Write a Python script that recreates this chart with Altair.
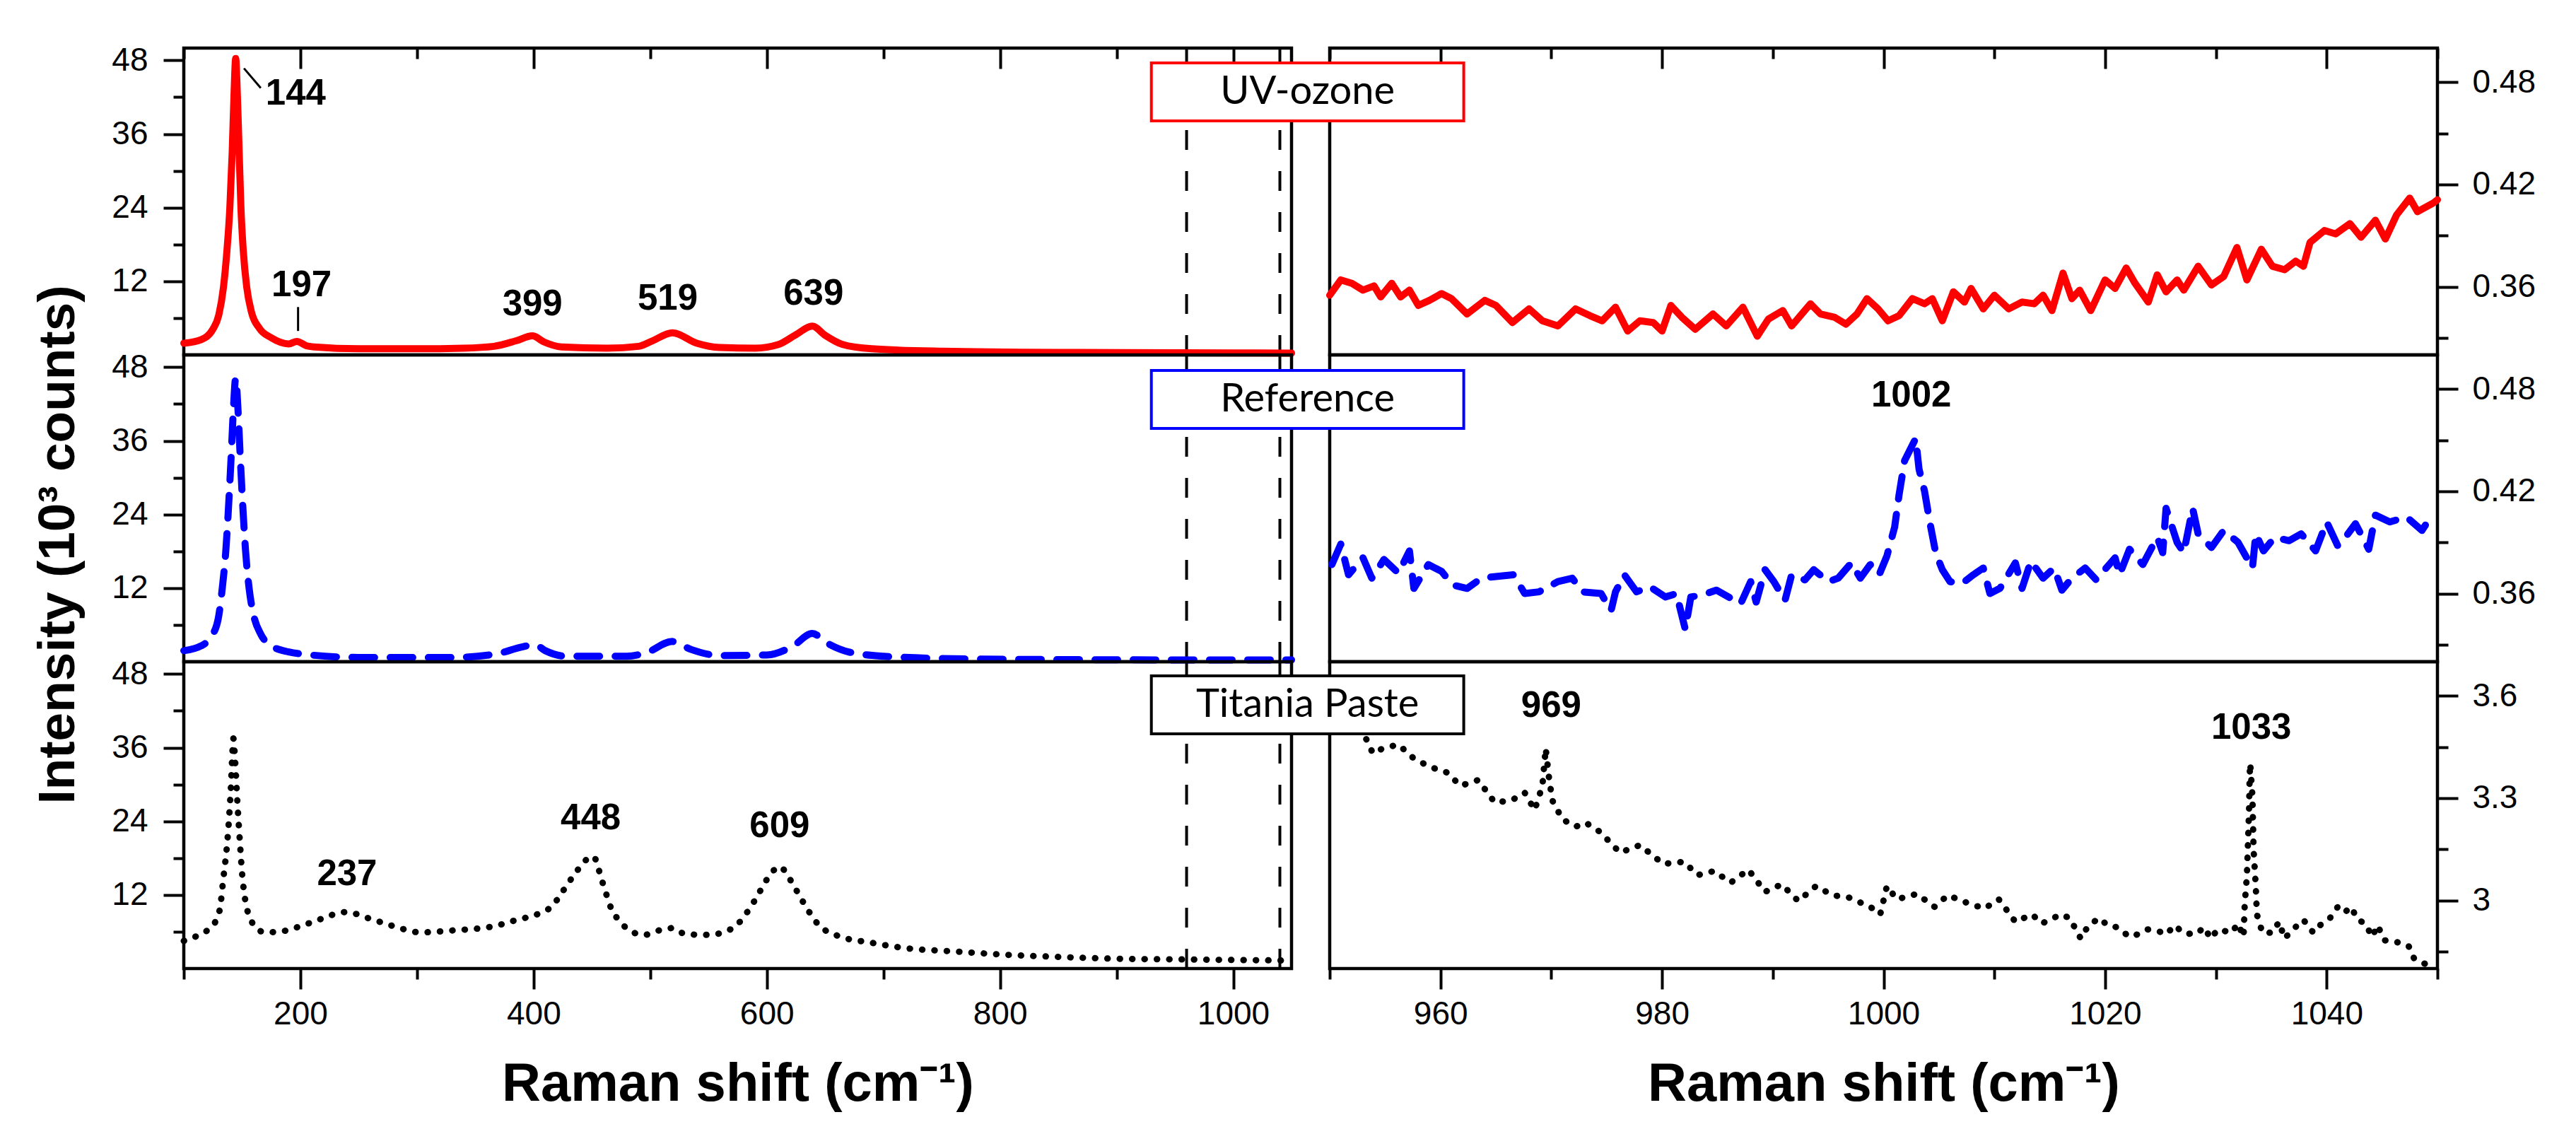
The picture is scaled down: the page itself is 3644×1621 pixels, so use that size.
import altair as alt
import pandas as pd

# ---------- left column: full spectra (x = Raman shift, y = 10^3 counts) ----------
uv_x = [100, 115, 125, 130, 134, 137, 139.5, 141.5, 143, 144.5, 146, 147.5, 149, 151, 154, 158,
        165, 175, 190, 197, 205, 212, 250, 300, 340, 366, 385, 399, 409, 424, 463, 490, 502,
        519, 540, 560, 590, 610, 625, 639, 650, 665, 690, 750, 850, 950, 1050]
uv_y = [1.9, 2.5, 4.2, 6.5, 11, 17, 24, 33, 42, 48.3, 42, 33, 24, 17, 11, 7,
        4.3, 2.8, 1.8, 2.2, 1.5, 1.3, 1.0, 1.0, 1.1, 1.4, 2.3, 3.1, 2.1, 1.3, 1.1, 1.4, 2.3,
        3.6, 1.9, 1.2, 1.1, 1.7, 3.3, 4.7, 3.2, 1.7, 1.0, 0.6, 0.4, 0.35, 0.3]

ref_x = [100, 115, 125, 130, 133, 136, 138, 140.5, 142.5, 144.5, 146.5, 148.5, 151, 153, 156, 160,
         166, 175, 190, 204, 250, 330, 366, 390, 401, 410, 428, 480, 497, 519, 535, 560, 600,
         622, 639, 652, 670, 700, 760, 850, 950, 1050]
ref_y = [1.8, 2.6, 4.5, 7.5, 12, 18, 24, 33, 41, 46.2, 41, 33, 24, 18, 12, 7.5,
         4.5, 2.6, 1.6, 1.2, 0.7, 0.7, 1.2, 2.4, 2.8, 1.8, 0.9, 0.9, 1.5, 3.3, 2.0, 1.0, 1.1,
         2.5, 4.6, 3.0, 1.6, 0.9, 0.5, 0.35, 0.3, 0.3]

tit_x = [100, 110, 120, 127, 131, 134, 137, 139, 140.5, 141.5, 142.5, 144, 146, 148, 150, 153,
         157, 162, 170, 185, 200, 215, 239, 260, 280, 303, 330, 366, 385, 405, 416, 425, 436,
         445, 451, 459, 467, 474, 484, 495, 511, 520, 530, 550, 570, 590, 600, 611, 620, 630,
         645, 660, 690, 720, 760, 800, 850, 900, 950, 1000, 1050]
tit_y = [4.5, 5.2, 6.2, 7.6, 9.8, 14.8, 20, 25, 30, 34.5, 37.5, 34, 27, 21, 15.5, 10.8,
         8.2, 6.6, 5.9, 6.1, 6.9, 7.9, 9.2, 8.1, 6.9, 5.9, 6.2, 6.9, 7.9, 9.0, 10.2, 12.6, 15.6,
         17.7, 18.3, 14.1, 9.6, 7.7, 6.0, 5.5, 6.4, 6.6, 5.6, 5.5, 6.5, 11.2, 14.5, 16.6, 14.5, 11.2,
         7.0, 5.4, 4.2, 3.3, 2.8, 2.3, 1.9, 1.6, 1.5, 1.4, 1.3]

# ---------- right column: zoom 950-1050 cm-1 ----------
uvz_x = [950.0, 951.0, 952.0, 953.0, 954.0, 954.6, 955.6, 956.4, 957.2, 958.0, 959.0, 960.1, 961.0,
         962.4, 964.0, 965.0, 966.5, 968.0, 969.2, 970.6, 972.2, 973.5, 974.6, 975.8, 976.9, 978.0,
         979.2, 980.0, 980.8, 981.8, 983.0, 984.6, 985.8, 987.3, 988.6, 989.6, 990.9, 991.7, 993.4,
         994.3, 995.6, 996.6, 997.6, 998.5, 999.5, 1000.4, 1001.4, 1002.6, 1003.7, 1004.4, 1005.3,
         1006.3, 1007.3, 1007.9, 1009.0, 1010.0, 1011.3, 1012.5, 1013.6, 1014.4, 1015.2, 1016.2,
         1017.0, 1017.7, 1018.7, 1020.0, 1020.9, 1021.9, 1022.7, 1023.9, 1024.7, 1025.5, 1026.5,
         1027.1, 1028.4, 1029.6, 1030.7, 1031.9, 1032.8, 1034.1, 1035.1, 1036.2, 1037.2, 1037.9,
         1038.5, 1039.8, 1040.8, 1042.1, 1043.1, 1044.4, 1045.3, 1046.3, 1047.5, 1048.2, 1049.6, 1050.0]
uvz_y = [0.355, 0.364, 0.362, 0.358, 0.3605, 0.354, 0.362, 0.354, 0.358, 0.349, 0.352, 0.356, 0.353,
         0.344, 0.352, 0.349, 0.339, 0.347, 0.340, 0.337, 0.347, 0.343, 0.340, 0.348, 0.334, 0.340,
         0.339, 0.334, 0.349, 0.342, 0.335, 0.344, 0.337, 0.348, 0.331, 0.341, 0.346, 0.337, 0.350,
         0.344, 0.342, 0.338, 0.344, 0.353, 0.347, 0.340, 0.343, 0.353, 0.350, 0.353, 0.340,
         0.357, 0.351, 0.359, 0.347, 0.355, 0.347, 0.351, 0.350, 0.355, 0.346, 0.368,
         0.353, 0.358, 0.346, 0.364, 0.359, 0.371, 0.362, 0.351, 0.367, 0.357, 0.364,
         0.358, 0.372, 0.361, 0.366, 0.383, 0.364, 0.382, 0.372, 0.370, 0.375, 0.372,
         0.386, 0.393, 0.391, 0.397, 0.389, 0.399, 0.388, 0.402, 0.412, 0.404, 0.409, 0.411]

refz_x = [950.2, 951.0, 951.7, 953.0, 953.8, 954.9, 956.2, 957.2, 957.6, 958.9, 960.1, 961.1, 962.4,
          963.7, 965.0, 966.6, 967.6, 968.9, 970.6, 971.9, 972.8, 974.5, 975.4, 975.8, 976.6, 977.7,
          978.9, 980.3, 981.3, 982.1, 982.6, 983.6, 984.9, 986.0, 987.1, 988.0, 988.5, 989.3, 990.1,
          991.1, 991.7, 992.9, 993.7, 995.0, 995.9, 997.1, 997.9, 998.8, 999.6, 1000.3, 1001.0,
          1001.4, 1001.9, 1002.9, 1003.2, 1003.7, 1004.2, 1004.7, 1005.3, 1006.0, 1007.1, 1008.1,
          1009.0, 1009.6, 1010.5, 1011.9, 1012.5, 1013.3, 1014.4, 1015.4, 1016.1, 1017.0, 1018.2,
          1019.2, 1020.1, 1020.9, 1021.3, 1022.2, 1023.4, 1024.7, 1025.2, 1025.5, 1026.5, 1027.1,
          1027.9, 1028.4, 1029.6, 1030.7, 1032.0, 1033.3, 1033.6, 1034.3, 1035.3, 1036.6, 1037.7,
          1039.0, 1040.0, 1041.0, 1041.8, 1042.6, 1043.8, 1044.4, 1045.7, 1047.2, 1048.6, 1049.6]
refz_y = [0.377, 0.389, 0.371, 0.381, 0.369, 0.380, 0.372, 0.385, 0.363, 0.377, 0.373, 0.365, 0.363,
          0.369, 0.370, 0.371, 0.360, 0.361, 0.367, 0.369, 0.361, 0.360, 0.350, 0.361, 0.371, 0.361,
          0.364, 0.358, 0.360, 0.339, 0.358, 0.359, 0.362, 0.358, 0.354, 0.367, 0.355, 0.374, 0.367,
          0.356, 0.371, 0.368, 0.374, 0.367, 0.369, 0.378, 0.369, 0.377, 0.371, 0.382, 0.399,
          0.418, 0.438, 0.451, 0.433, 0.420, 0.401, 0.384, 0.374, 0.367, 0.366, 0.371,
          0.375, 0.360, 0.363, 0.378, 0.363, 0.379, 0.369, 0.375, 0.362, 0.369, 0.375,
          0.368, 0.375, 0.381, 0.371, 0.386, 0.377, 0.393, 0.384, 0.410, 0.390, 0.384,
          0.410, 0.395, 0.387, 0.397, 0.390, 0.375, 0.395, 0.385, 0.393, 0.391, 0.395,
          0.385, 0.402, 0.388, 0.394, 0.401, 0.386, 0.406, 0.402, 0.405, 0.397, 0.407]

titz_x = [953.3, 953.9, 954.8, 956.2, 957.6, 959.1, 960.6, 961.8, 963.4, 964.9, 966.4, 967.6, 968.5,
          969.2, 969.5, 969.8, 970.1, 971.0, 972.2, 973.1, 974.4, 976.2, 978.0, 980.1, 982.0, 983.2,
          984.7, 986.2, 987.8, 989.3, 990.8, 992.3, 993.9, 995.4, 996.9, 998.8, 999.7, 1000.3, 1001.2,
          1003.0, 1004.6, 1005.8, 1007.6, 1009.1, 1010.4, 1011.9, 1013.4, 1014.3, 1016.0, 1016.8,
          1017.8, 1018.5, 1019.5, 1020.2, 1021.1, 1022.2, 1022.9, 1023.8, 1024.8, 1025.5, 1026.3,
          1027.0, 1028.1, 1029.0, 1029.5, 1030.2, 1031.4, 1032.0, 1032.5, 1032.6, 1032.8, 1032.9,
          1033.0, 1033.05, 1033.1, 1033.3, 1033.4, 1033.6, 1033.7, 1034.2, 1035.1, 1035.7, 1036.2,
          1036.8, 1037.9, 1038.8, 1039.4, 1040.3, 1041.0, 1041.6, 1042.2, 1042.8, 1043.5, 1044.1,
          1044.6, 1045.2, 1046.4, 1047.4, 1047.9, 1049.0]
titz_y = [3.473, 3.431, 3.446, 3.457, 3.416, 3.391, 3.375, 3.336, 3.353, 3.287, 3.293, 3.316, 3.265,
          3.336, 3.446, 3.359, 3.293, 3.238, 3.216, 3.228, 3.201, 3.140, 3.162, 3.107, 3.113, 3.074,
          3.086, 3.052, 3.090, 3.025, 3.047, 2.998, 3.042, 3.015, 3.008, 2.981, 2.959, 3.042, 3.003,
          3.019, 2.981, 3.015, 2.992, 2.976, 3.003, 2.937, 2.959, 2.932, 2.959, 2.948,
          2.888, 2.927, 2.948, 2.927, 2.921, 2.893, 2.900, 2.915, 2.910, 2.900, 2.927,
          2.905, 2.900, 2.921, 2.888, 2.915, 2.905, 2.932, 2.893, 2.987, 3.074, 3.172,
          3.272, 3.370, 3.402, 3.304, 3.150, 3.042, 2.959, 2.905, 2.905, 2.937, 2.888,
          2.910, 2.943, 2.905, 2.927, 2.948, 2.981, 2.964, 2.981, 2.943, 2.932, 2.893,
          2.927, 2.883, 2.877, 2.866, 2.829, 2.812]

# ---------- annotations ----------
uv_lab = ["144", "197", "399", "519", "639"]
uv_lab_x = [196, 201, 399, 515, 640]
uv_lab_y = [42.5, 11.3, 8.2, 9.1, 9.9]
tit_lab = ["237", "448", "609"]
tit_lab_x = [240, 449, 611]
tit_lab_y = [15.3, 24.4, 23.2]
ref_z_lab, ref_z_lab_x, ref_z_lab_y = ["1002"], [1002.5], [0.476]
tit_z_lab = ["969", "1033"]
tit_z_lab_x = [970, 1033.2]
tit_z_lab_y = [3.57, 3.506]
leader_x, leader_x2 = [151.6, 198], [166, 198]
leader_y, leader_y2 = [46.7, 7.8], [43.5, 3.9]
zoom_window = [960, 1040]

W, H = 1567, 434
FONT = "Liberation Sans"
RED, BLUE, BLACK = "#ff0000", "#0000ff", "#000000"
XL = alt.Scale(domain=[100, 1050], nice=False, zero=False)
XR = alt.Scale(domain=[950, 1050], nice=False, zero=False)
YL = alt.Scale(domain=[0, 50], nice=False, zero=False)
YR1 = alt.Scale(domain=[0.32, 0.50], nice=False, zero=False)
YR3 = alt.Scale(domain=[2.8, 3.7], nice=False, zero=False)

XL_MAJ, XL_MIN = [200, 400, 600, 800, 1000], [100, 300, 500, 700, 900]
XR_MAJ, XR_MIN = [960, 980, 1000, 1020, 1040], [950, 970, 990, 1010, 1030, 1050]
YL_MAJ, YL_MIN = [12, 24, 36, 48], [6, 18, 30, 42]
YR1_MAJ, YR1_MIN = [0.36, 0.42, 0.48], [0.33, 0.39, 0.45]
YR3_MAJ, YR3_MIN = [3.0, 3.3, 3.6], [2.85, 3.15, 3.45]


def df(x, y):
    return pd.DataFrame({"x": x, "y": y})


def ticked_axis(major, minor, orient, fmt, **kw):
    test = f"indexof({major}, datum.value) >= 0"
    return alt.Axis(values=sorted(major + minor), orient=orient, format=fmt,
                    tickSize={"condition": {"test": test, "value": 29}, "value": 15},
                    labelExpr=f"{test} ? datum.label : ''", grid=False, domain=False,
                    tickWidth=4, tickColor=BLACK, labelFont=FONT, labelFontSize=46,
                    labelColor=BLACK, **kw)


def top_ticks(data, xs, ys, major, minor):
    # inward ticks on the top border of the upper panels
    out = []
    for vals, size in [(major, 29), (minor, 15)]:
        out.append(alt.Chart(data).mark_point(opacity=0).encode(
            x=alt.X("x:Q", scale=xs, axis=alt.Axis(orient="top", values=vals, tickSize=size,
                                                   offset=-size, labels=False, domain=False,
                                                   grid=False, title=None, tickWidth=4,
                                                   tickColor=BLACK)),
            y=alt.Y("y:Q", scale=ys, axis=None)))
    return out


def curve(data, xs, ys, color, style, yaxis, xaxis=None, interp="linear"):
    kw = dict(color=color, interpolate=interp, strokeCap="round", strokeJoin="round")
    if style == "solid":
        kw.update(strokeWidth=10)
    elif style == "dash":
        kw.update(strokeWidth=10, strokeDash=[32, 22])
    else:
        kw.update(strokeWidth=9, strokeDash=[0.5, 17])
    return alt.Chart(data).mark_line(**kw).encode(
        x=alt.X("x:Q", scale=xs, axis=xaxis),
        y=alt.Y("y:Q", scale=ys, axis=yaxis))


def labels(text, x, y, xs, ys):
    return alt.Chart(pd.DataFrame({"t": text, "x": x, "y": y})).mark_text(
        font=FONT, fontWeight="bold", fontSize=51, color=BLACK, baseline="middle").encode(
        x=alt.X("x:Q", scale=xs, axis=None), y=alt.Y("y:Q", scale=ys, axis=None), text="t:N")


def window_lines():
    return alt.Chart(pd.DataFrame({"x": zoom_window})).mark_rule(
        color=BLACK, strokeWidth=4, strokeDash=[28, 30]).encode(
        x=alt.X("x:Q", scale=XL, axis=None))


def tag(text, color, ys, y0, y1):
    d = pd.DataFrame({"t": [text], "x0": [933.9], "x1": [962.1], "y0": [y0], "y1": [y1],
                      "xc": [948.0], "yc": [(y0 + y1) / 2]})
    box = alt.Chart(d).mark_rect(fill="white", stroke=color, strokeWidth=4, clip=False).encode(
        x=alt.X("x0:Q", scale=XR, axis=None), x2="x1:Q",
        y=alt.Y("y0:Q", scale=ys, axis=None), y2="y1:Q")
    txt = alt.Chart(d).mark_text(font="Lato", fontSize=56, color=BLACK, baseline="middle",
                                 clip=False).encode(
        x=alt.X("xc:Q", scale=XR, axis=None), y=alt.Y("yc:Q", scale=ys, axis=None), text="t:N")
    return [box, txt]


def panel(*layers):
    # axes are given by one layer each; the scales stay shared
    return alt.layer(*layers).resolve_axis(x="independent", y="independent").properties(
        width=W, height=H)


X_TITLE = dict(title="Raman shift (cm⁻¹)", titleFont=FONT, titleFontSize=76,
               titleFontWeight="bold", titleColor=BLACK, titlePadding=39)

# ---------- left column ----------
uv_d = df(uv_x, uv_y)
leaders = alt.Chart(pd.DataFrame({"x": leader_x, "x2": leader_x2, "y": leader_y, "y2": leader_y2})
                    ).mark_rule(color=BLACK, strokeWidth=3).encode(
    x=alt.X("x:Q", scale=XL, axis=None), x2="x2:Q",
    y=alt.Y("y:Q", scale=YL, axis=None), y2="y2:Q")
uv_l = panel(
    window_lines(),
    curve(uv_d, XL, YL, RED, "solid",
          ticked_axis(YL_MAJ, YL_MIN, "left", "d", labelPadding=22, title=None),
          interp="monotone"),
    *top_ticks(uv_d, XL, YL, XL_MAJ, XL_MIN),
    leaders,
    labels(uv_lab, uv_lab_x, uv_lab_y, XL, YL),
)

ref_l = panel(
    window_lines(),
    curve(df(ref_x, ref_y), XL, YL, BLUE, "dash",
          ticked_axis(YL_MAJ, YL_MIN, "left", "d", labelPadding=22, title="Intensity (10³ counts)",
                      titleFont=FONT, titleFontSize=73, titleFontWeight="bold", titleColor=BLACK,
                      titlePadding=38, titleY=268),
          interp="monotone"),
)

tit_l = panel(
    window_lines(),
    curve(df(tit_x, tit_y), XL, YL, BLACK, "dot",
          ticked_axis(YL_MAJ, YL_MIN, "left", "d", labelPadding=22, title=None),
          xaxis=ticked_axis(XL_MAJ, XL_MIN, "bottom", "d", labelPadding=13, **X_TITLE),
          interp="monotone"),
    labels(tit_lab, tit_lab_x, tit_lab_y, XL, YL),
)

# ---------- right column ----------
uvz_d = df(uvz_x, uvz_y)
uv_r = panel(
    curve(uvz_d, XR, YR1, RED, "solid",
          ticked_axis(YR1_MAJ, YR1_MIN, "right", ".2f", labelPadding=20, title=None)),
    *top_ticks(uvz_d, XR, YR1, XR_MAJ, XR_MIN),
    *tag("UV-ozone", RED, YR1, 0.4913, 0.4573),
)

ref_r = panel(
    curve(df(refz_x, refz_y), XR, YR1, BLUE, "dash",
          ticked_axis(YR1_MAJ, YR1_MIN, "right", ".2f", labelPadding=20, title=None)),
    labels(ref_z_lab, ref_z_lab_x, ref_z_lab_y, XR, YR1),
    *tag("Reference", BLUE, YR1, 0.4909, 0.4569),
)

tit_r = panel(
    curve(df(titz_x, titz_y), XR, YR3, BLACK, "dot",
          ticked_axis(YR3_MAJ, YR3_MIN, "right", ".1~f", labelPadding=20, title=None),
          xaxis=ticked_axis(XR_MAJ, XR_MIN, "bottom", "d", labelPadding=13, **X_TITLE)),
    labels(tit_z_lab, tit_z_lab_x, tit_z_lab_y, XR, YR3),
    *tag("Titania Paste", BLACK, YR3, 3.6585, 3.4885),
)

# 3 x 2 grid, plot areas butted together vertically, 54 px gap between the columns
chart = alt.concat(uv_l, uv_r, ref_l, ref_r, tit_l, tit_r, columns=2,
                   spacing={"row": 0, "column": 54}, bounds="flush").properties(
    padding={"left": 36, "top": 52, "right": 10, "bottom": 10}
).configure_view(stroke=BLACK, strokeWidth=4.5)

chart.save("out.html", embed_options={"renderer": "svg", "actions": False})
